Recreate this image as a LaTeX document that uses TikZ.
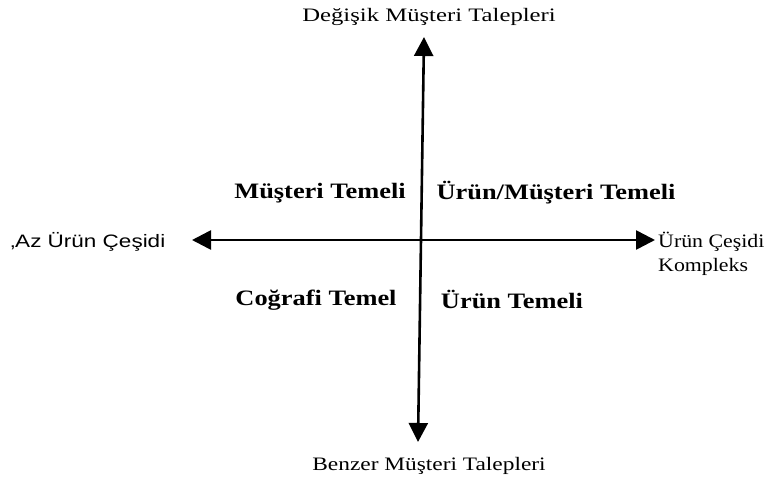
\documentclass[tikz,border=0pt]{standalone}
\usepackage{fontspec}
\setmainfont{Liberation Serif}
\newfontfamily\axsans{Liberation Sans}
\usetikzlibrary{arrows.meta}

\tikzset{
    axis/.style={line width=2.6pt, {Triangle[length=19pt,width=19pt]}-{Triangle[length=19pt,width=19pt]}},
    endlabel/.style={font=\fontsize{19}{25}\selectfont, inner sep=0pt},
    quadlabel/.style={font=\fontsize{22}{24}\selectfont\bfseries, inner sep=0pt, xscale=1.2}
}

\begin{document}
\begin{tikzpicture}[x=1pt, y=-1pt]
    \useasboundingbox (0,0) rectangle (769,482);
    % Axis ends
    \coordinate (top) at (424,37);
    \coordinate (bottom) at (418,442);
    \coordinate (left) at (192,240);
    \coordinate (right) at (655,240);
    % Axes
    \draw[axis] (left) -- (right);
    \draw[axis] (bottom) -- (top);
    % Axis labels
    \node[endlabel, xscale=1.3] (demandhigh) at (429,17) {Değişik Müşteri Talepleri};
    \node[endlabel, xscale=1.23] (demandlow) at (429,466) {Benzer Müşteri Talepleri};
    \node[endlabel, anchor=west, xscale=1.25, font=\axsans\fontsize{18}{20}\selectfont] (rangelow) at (10,242) {‚Az Ürün Çeşidi};
    \node[endlabel, anchor=west, xscale=1.15] (rangehigh) at (658,242) {Ürün Çeşidi};
    \node[endlabel, anchor=west, xscale=1.15] (complex) at (658,267) {Kompleks};
    % Quadrants
    \node[quadlabel] (customer) at (320,193) {Müşteri Temeli};
    \node[quadlabel] (mixed) at (556,193) {Ürün/Müşteri Temeli};
    \node[quadlabel] (geo) at (316,300) {Coğrafi Temel};
    \node[quadlabel] (product) at (512,299) {Ürün Temeli};
\end{tikzpicture}
\end{document}
